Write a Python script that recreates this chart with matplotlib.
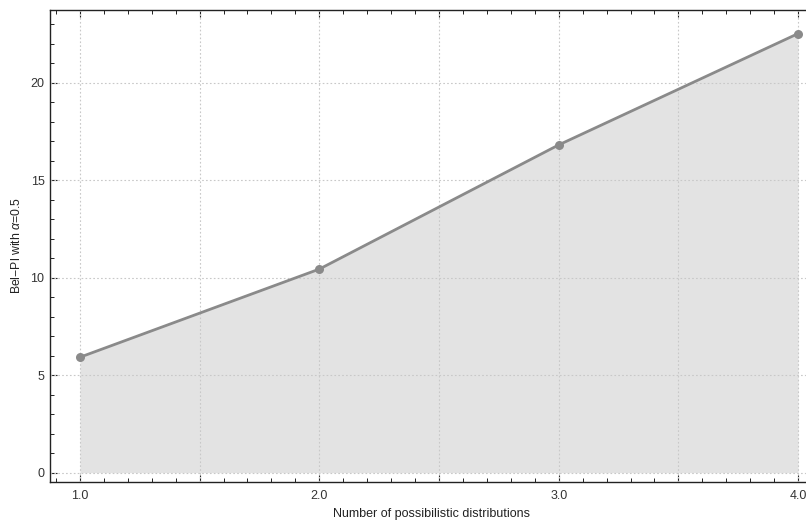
import matplotlib
matplotlib.use("Agg")
import matplotlib.pyplot as plt
from matplotlib.ticker import MultipleLocator, FuncFormatter

plt.rcParams['font.family'] = ['Liberation Sans', 'DejaVu Sans']
plt.rcParams['mathtext.fontset'] = 'custom'
plt.rcParams['mathtext.it'] = 'Liberation Sans:italic'

# values
n_dists = [1.0, 2.0, 3.0, 4.0]
bel_pl = [5.92, 10.44, 16.81, 22.52]

line_col = "#8a8a8a"
fill_col = "#e3e3e3"
frame_col = "#222222"
grid_col = "#c8c8c8"

fig = plt.figure(figsize=(8.06, 5.23), dpi=100)
W, H = 806, 523
# axes frame in pixels: left 50, top 10, bottom 482, right spine off-canvas
ax = fig.add_axes([50 / W, (H - 482) / H, (828 - 50) / W, (482 - 10) / H])

ax.fill_between(n_dists, 0, bel_pl, color=fill_col, linewidth=0, zorder=1)
ax.plot(n_dists, bel_pl, color=line_col, linewidth=2, marker="o",
        markersize=6.5, markeredgewidth=0, zorder=3)

ax.set_xlim(0.875, 4.125)
ax.set_ylim(-0.48, 23.73)

def int_only(v, pos):
    return "%.1f" % v if abs(v - round(v)) < 1e-6 else ""

ax.xaxis.set_major_locator(MultipleLocator(0.5))
ax.xaxis.set_minor_locator(MultipleLocator(0.1))
ax.xaxis.set_major_formatter(FuncFormatter(int_only))
ax.yaxis.set_major_locator(MultipleLocator(5))
ax.yaxis.set_minor_locator(MultipleLocator(1))

ax.tick_params(which="both", direction="in", top=True, right=True,
               color=frame_col, labelcolor="#333333", labelsize=9)
ax.tick_params(which="major", length=5, width=0.8)
ax.tick_params(which="minor", length=3, width=0.7)
ax.tick_params(axis="x", pad=6)
ax.tick_params(axis="y", pad=4)

for s in ax.spines.values():
    s.set_color(frame_col)
    s.set_linewidth(1.0)

# dotted grid at half steps on x and every 5 on y
for gx in [1.0, 1.5, 2.0, 2.5, 3.0, 3.5, 4.0]:
    ax.axvline(gx, color=grid_col, linestyle=(0, (1.5, 2)), linewidth=0.8, zorder=2)
for gy in [0, 5, 10, 15, 20]:
    ax.axhline(gy, color=grid_col, linestyle=(0, (1.5, 2)), linewidth=0.8, zorder=2)

fig.text(432 / W, 1 - 514 / H, "Number of possibilistic distributions",
         ha="center", va="center", fontsize=9, color="#222222")
fig.text(17 / W, 1 - 246 / H, "Bel\u2212Pl with $\\alpha$=0.5", rotation=90,
         ha="center", va="center", fontsize=8.8, color="#222222")

fig.savefig("out.png", dpi=100)
